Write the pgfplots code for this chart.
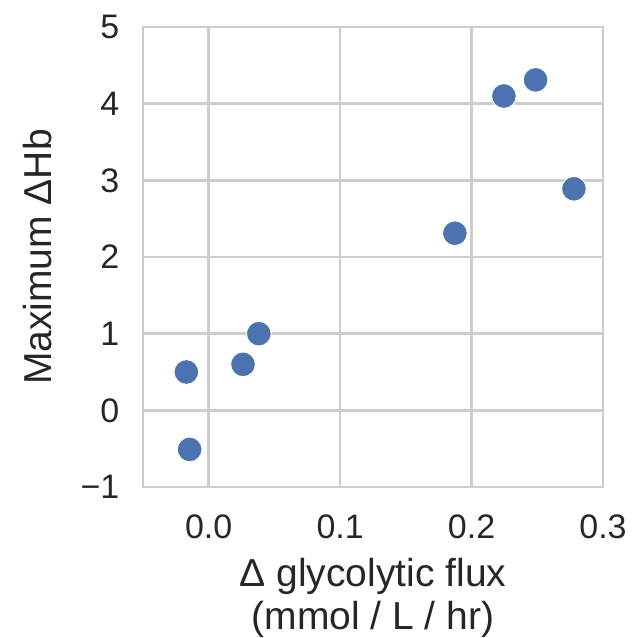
\documentclass[border=0pt]{standalone}
\usepackage{pgfplots}
\pgfplotsset{compat=1.18}
\usepackage{fontspec}
\setmainfont{Liberation Sans}
\definecolor{sbblue}{HTML}{4C72B0}
\definecolor{gridgray}{HTML}{CCCCCC}
\definecolor{txt}{HTML}{262626}

\begin{document}
\fontsize{17}{20}\selectfont
\begin{tikzpicture}
\begin{axis}[
  name=ax,
  scale only axis,
  width=230pt, height=230pt,
  xmin=-0.05, xmax=0.3,
  ymin=-1, ymax=5,
  xtick={0,0.1,0.2,0.3},
  xticklabels={0.0,0.1,0.2,0.3},
  ytick={-1,0,1,2,3,4,5},
  yticklabels={−1,0,1,2,3,4,5},
  grid=major,
  grid style={gridgray, line width=1.3pt},
  axis line style={gridgray, line width=1.3pt},
  major tick length=0pt,
  tick label style={font=\fontsize{17}{20}\selectfont, text=txt},
  xticklabel style={yshift=-8pt},
  yticklabel style={xshift=-6pt},
  label style={text=txt},
  xlabel={Δ glycolytic flux\\(mmol / L / hr)},
  xlabel style={font=\fontsize{19.5}{21.5}\selectfont, align=center, inner sep=0pt, yshift=-4pt},
  ylabel={Maximum ΔHb},
  ylabel style={font=\fontsize{19.5}{23.5}\selectfont, yshift=3pt},
  clip=false,
]
\addplot[only marks, mark=*, mark size=6.2pt,
  mark options={fill=sbblue, draw=white, line width=0.5pt}]
  coordinates {
  (-0.0170,0.50) (-0.0145,-0.51) (0.0261,0.60) (0.0381,1.00)
  (0.1873,2.31) (0.2246,4.10) (0.2487,4.31) (0.2779,2.89)
  };
\end{axis}
\path (ax.south west) ++(-71.5pt,-75pt);
\path (ax.north east) ++(19.5pt,13.5pt);
\end{tikzpicture}
\end{document}
